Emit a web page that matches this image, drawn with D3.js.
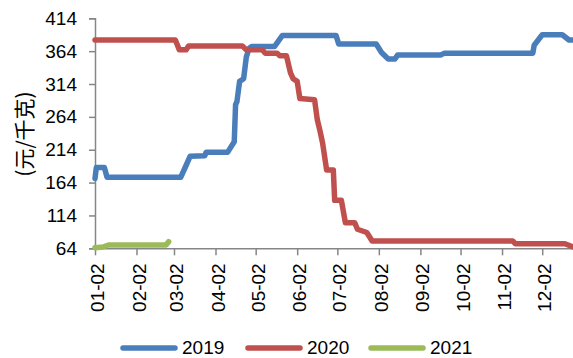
<!DOCTYPE html>
<html>
<head>
<meta charset="utf-8">
<script src="https://cdn.jsdelivr.net/npm/d3@7"></script>
<style>
  html, body { margin: 0; padding: 0; background: #fff; }
  svg { display: block; }
  text { font-family: "Liberation Sans", Arial, sans-serif; fill: #000; }
</style>
</head>
<body>
<svg id="chart" width="573" height="358"></svg>
<script>
// Daily price (元/千克) by month-day, one series per year
const dates2019 = ["01-02","01-03","01-09","01-11","03-07","03-11","03-14","03-25","03-26","04-11","04-16","04-17","04-18","04-20","04-23","04-25","04-27","04-29","05-16","05-22","07-01","07-03","07-31","08-04","08-09","08-14","08-16","09-17","09-20","11-25","11-26","12-02","12-17","12-22","12-25"];
const values2019 = [170,187,187,172,172,190,204,205,210,210,226,283,287,318,322,355,368,371,371,388,388,375,375,362,352,352,358,358,361,361,373,389,389,381,381];

const dates2020 = ["01-02","03-03","03-06","03-11","03-13","04-22","04-25","05-07","05-09","05-18","05-20","05-25","05-28","05-30","06-02","06-04","06-15","06-17","06-19","06-21","06-24","06-29","06-30","07-05","07-08","07-15","07-17","07-24","07-28","11-10","11-12","12-19","12-25"];
const values2020 = [381,381,366,366,372,372,366,366,361,361,357,357,331,322,318,292,290,260,243,224,183,183,137,137,103,103,93,88,75,75,71,71,66];

const dates2021 = ["01-02","01-08","01-12","02-24","02-26"];
const values2021 = [65,66,69,69,74];

const seriesNames = ["2019","2020","2021"];
const seriesColors = ["#4a7ebb","#c0504d","#9bbb59"];
const yTicks = [64,114,164,214,264,314,364,414];
const xTickDates = ["01-02","02-02","03-02","04-02","05-02","06-02","07-02","08-02","09-02","10-02","11-02","12-02"];
const yTitle = "(元/千克)";

const parse = md => d3.timeParse("%Y-%m-%d")("2019-" + md);
const series = [
  {name: seriesNames[0], color: seriesColors[0], pts: dates2019.map((d, i) => ({d: parse(d), v: values2019[i]}))},
  {name: seriesNames[1], color: seriesColors[1], pts: dates2020.map((d, i) => ({d: parse(d), v: values2020[i]}))},
  {name: seriesNames[2], color: seriesColors[2], pts: dates2021.map((d, i) => ({d: parse(d), v: values2021[i]}))}
];

const svg = d3.select("#chart");
const plotLeft = 95, plotRight = 573, plotTop = 18.3, plotBottom = 248.3;

const x = d3.scaleTime().domain([parse("01-02"), parse("12-25")]).range([plotLeft, plotRight]);
const y = d3.scaleLinear().domain([64, 414]).range([plotBottom, plotTop]);

const axisColor = "#868686";

// y axis
const yAxis = svg.append("g")
  .attr("transform", `translate(${plotLeft},0)`)
  .call(d3.axisLeft(y).tickValues(yTicks).tickSize(6).tickPadding(12).tickFormat(d3.format("d")));
yAxis.select(".domain").attr("stroke", axisColor).attr("stroke-width", 1.5);
yAxis.selectAll(".tick line").attr("stroke", axisColor).attr("stroke-width", 1.5);
yAxis.selectAll(".tick text").style("font-size", "19px").attr("fill", "#000");

// x axis
const xAxis = svg.append("g")
  .attr("transform", `translate(0,${plotBottom})`)
  .call(d3.axisBottom(x).tickValues(xTickDates.map(parse)).tickSize(7).tickSizeOuter(0).tickFormat(d3.timeFormat("%m-%d")));
xAxis.select(".domain").attr("stroke", axisColor).attr("stroke-width", 1.5);
xAxis.selectAll(".tick line").attr("stroke", axisColor).attr("stroke-width", 1.5);
xAxis.selectAll(".tick text")
  .style("font-size", "19px")
  .attr("fill", "#000")
  .attr("text-anchor", "end")
  .attr("transform", "rotate(-90)")
  .attr("x", -15)
  .attr("y", 0)
  .attr("dy", "0.45em");

// y axis title
svg.append("text")
  .attr("transform", "translate(32,134) rotate(-90)")
  .attr("text-anchor", "middle")
  .style("font-family", "'Noto Sans CJK SC', sans-serif")
  .style("font-size", "21px")
  .text(yTitle);

// series lines
const line = d3.line().x(p => x(p.d)).y(p => y(p.v)).curve(d3.curveLinear);
svg.append("g").selectAll("path")
  .data(series)
  .join("path")
  .attr("d", s => line(s.pts))
  .attr("fill", "none")
  .attr("stroke", s => s.color)
  .attr("stroke-width", 5.5)
  .attr("stroke-linejoin", "round")
  .attr("stroke-linecap", "round");

// legend
const legendX = [123, 248, 371];
const legend = svg.append("g").selectAll("g")
  .data(series)
  .join("g")
  .attr("transform", (s, i) => `translate(${legendX[i]},348)`);
legend.append("line")
  .attr("x1", 0).attr("x2", 52).attr("y1", 0).attr("y2", 0)
  .attr("stroke", s => s.color)
  .attr("stroke-width", 5.5)
  .attr("stroke-linecap", "round");
legend.append("text")
  .attr("x", 59)
  .attr("y", 0)
  .attr("dy", "0.3em")
  .style("font-size", "19px")
  .text(s => s.name);
</script>
</body>
</html>
